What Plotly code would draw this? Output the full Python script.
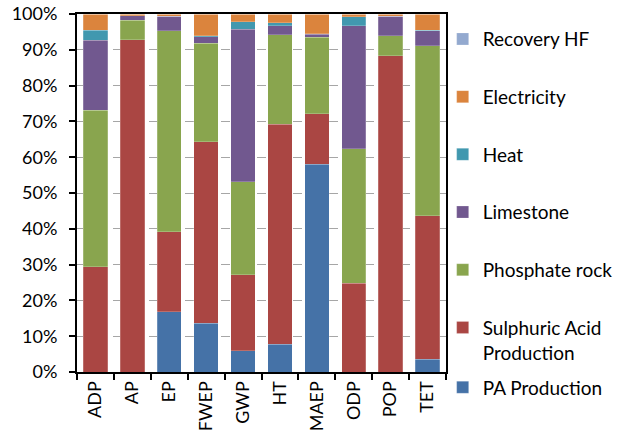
import plotly.graph_objects as go

categories = ["ADP", "AP", "EP", "FWEP", "GWP", "HT", "MAEP", "ODP", "POP", "TET"]

pa_production = [0.0, 0.0, 16.8, 13.6, 5.9, 7.7, 58.0, 0.0, 0.0, 3.5]
sulphuric_acid = [29.4, 92.8, 22.4, 50.7, 21.3, 61.5, 14.1, 24.8, 88.3, 40.1]
phosphate_rock = [43.7, 5.4, 56.1, 27.6, 25.9, 25.0, 21.4, 37.5, 5.6, 47.5]
limestone = [19.5, 1.3, 4.1, 1.7, 42.7, 2.5, 0.8, 34.4, 5.5, 4.2]
heat = [2.9, 0.0, 0.0, 0.3, 2.0, 0.8, 0.2, 2.6, 0.0, 0.2]
electricity = [4.5, 0.5, 0.6, 6.1, 2.2, 2.5, 5.5, 0.7, 0.6, 4.5]
recovery_hf = [0.0, 0.0, 0.0, 0.0, 0.0, 0.0, 0.0, 0.0, 0.0, 0.0]

y_ticks = [0, 10, 20, 30, 40, 50, 60, 70, 80, 90, 100]
y_tick_labels = [f"{v}%" for v in y_ticks]

series = [
    ("PA Production", pa_production, "#4572A7", "legend2"),
    ("Sulphuric Acid<br>Production", sulphuric_acid, "#AA4643", "legend"),
    ("Phosphate rock", phosphate_rock, "#89A54E", "legend"),
    ("Limestone", limestone, "#71588F", "legend"),
    ("Heat", heat, "#4198AF", "legend"),
    ("Electricity", electricity, "#DB843D", "legend"),
    ("Recovery HF", recovery_hf, "#93A9CF", "legend"),
]

fig = go.Figure()
n = len(series)
for i, (name, vals, color, lg) in enumerate(series):
    fig.add_trace(go.Bar(
        x=categories, y=vals, name=name, legendgroup=f"g{i}", legend=lg,
        legendrank=(n - i) * 100,
        marker=dict(color=color, line=dict(color="rgba(255,255,255,0.35)", width=0.6)),
    ))

FONT = "Lato"
legend_common = dict(
    xanchor="left", yanchor="top",
    traceorder="grouped", tracegroupgap=30, valign="top",
    font=dict(family=FONT, size=19), bgcolor="rgba(0,0,0,0)",
    maxheight=440,
)
fig.update_layout(
    width=621, height=446,
    barmode="stack", bargap=0.34,
    plot_bgcolor="white", paper_bgcolor="white",
    margin=dict(l=77, r=175, t=14, b=74, autoexpand=False),
    font=dict(family=FONT, size=18, color="#000000"),
    legend=dict(x=0.991, y=0.983, **legend_common),
    legend2=dict(x=0.991, y=0.010, **legend_common),
    showlegend=True,
)
fig.update_yaxes(
    range=[0, 100], tickvals=y_ticks, ticktext=y_tick_labels,
    showgrid=True, gridcolor="#a6a6a6", griddash="dash", gridwidth=1,
    showline=True, linecolor="#000000", linewidth=2, mirror=True,
    ticks="outside", ticklen=6, tickwidth=1.5, tickcolor="#000000",
    ticklabelstandoff=8, zeroline=False, automargin=False,
)
fig.update_xaxes(
    tickangle=-90, tickson="boundaries", automargin=False,
    showline=True, linecolor="#000000", linewidth=2, mirror=True,
    ticks="outside", ticklen=6, tickwidth=1.5, tickcolor="#000000",
)

fig.write_html("out.html")
